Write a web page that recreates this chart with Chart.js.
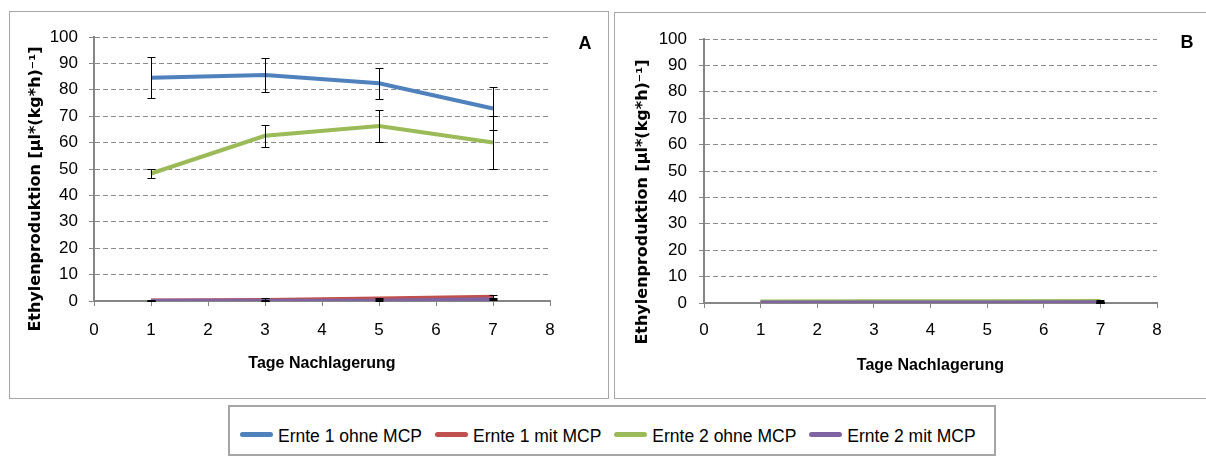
<!DOCTYPE html>
<html>
<head>
<meta charset="utf-8">
<script src="https://cdn.jsdelivr.net/npm/chart.js@4/dist/chart.umd.min.js"></script>
<style>
  body { margin: 0; width: 1206px; height: 457px; background: #fff; position: relative; overflow: hidden; font-family: 'Liberation Sans', Arial, sans-serif; }
  .panel { position: absolute; border: 1px solid #a6a6a6; background: #fff; }
  .panel canvas { position: absolute; left: 0; top: 0; }
  #boxA { left: 9px; top: 11px; width: 598px; height: 386px; }
  #boxB { left: 614px; top: 12px; width: 598px; height: 385px; }
  #legend { position: absolute; left: 228px; top: 405px; border: 2px solid #a6a6a6;
    display: flex; align-items: flex-start; padding: 19px 0 0 10px; box-sizing: content-box; width: 754px; height: 28px; }
  .item { display: flex; align-items: center; font-size: 17.5px; line-height: 20px; color: #000; margin-right: 13px; }
  .swatch { width: 33px; height: 5px; border-radius: 3px; margin-right: 5px; margin-top: -3px; }
</style>
</head>
<body>
<div class="panel" id="boxA"><canvas id="chartA" width="598" height="386"></canvas></div>
<div class="panel" id="boxB"><canvas id="chartB" width="598" height="385"></canvas></div>
<div id="legend"></div>
<script>
const days = [1, 3, 5, 7]
const seriesNames = ['Ernte 1 ohne MCP', 'Ernte 1 mit MCP', 'Ernte 2 ohne MCP', 'Ernte 2 mit MCP']
const seriesColors = ['#4f81bd', '#c0504d', '#9bbb59', '#8064a2']
const xTicks = [0, 1, 2, 3, 4, 5, 6, 7, 8]
const yTicks = [0, 10, 20, 30, 40, 50, 60, 70, 80, 90, 100]

// panel A values and error bars (+/-)
const aE1Ohne = [84.6, 85.6, 82.5, 72.9]
const aE1OhneErr = [7.8, 6.6, 5.9, 8.2]
const aE1Mit = [0.2, 0.4, 0.9, 1.6]
const aE1MitErr = [0.1, 0.6, 0.3, 0.8]
const aE2Ohne = [48.3, 62.6, 66.3, 60.0]
const aE2OhneErr = [1.8, 4.1, 6.2, 10.0]
const aE2Mit = [0.1, 0.1, 0.1, 0.7]
const aE2MitErr = [0.05, 0.1, 0.1, 0.4]

// panel B values and error bars (+/-)
const bE1Ohne = [0.4, 0.4, 0.4, 0.4]
const bE1OhneErr = [0, 0, 0, 0.3]
const bE1Mit = [0.0, 0.0, 0.0, 0.0]
const bE1MitErr = [0, 0, 0, 0.2]
const bE2Ohne = [0.6, 0.7, 0.7, 0.8]
const bE2OhneErr = [0, 0, 0, 0.3]
const bE2Mit = [0.2, 0.2, 0.2, 0.3]
const bE2MitErr = [0, 0, 0, 0.2]

const yTitle = 'Ethylenproduktion [µl*(kg*h)⁻¹]'
const xTitle = 'Tage Nachlagerung'

function makeDatasets(values, errors) {
  // order: later series drawn on top, like the original
  return values.map((vals, i) => ({
    label: seriesNames[i],
    data: vals.map((v, j) => ({ x: days[j], y: v })),
    errors: errors[i],
    borderColor: seriesColors[i],
    backgroundColor: seriesColors[i],
    borderWidth: 4,
    pointRadius: 0,
    tension: 0,
    order: 4 - i
  }))
}

const errorBars = {
  id: 'errorBars',
  afterDatasetsDraw(chart) {
    const ctx = chart.ctx
    const xs = chart.scales.x, ys = chart.scales.y
    ctx.save()
    ctx.strokeStyle = '#000'
    ctx.lineWidth = 1
    chart.data.datasets.forEach(ds => {
      ds.data.forEach((p, i) => {
        const e = ds.errors[i]
        if (!e) return
        const px = Math.round(xs.getPixelForValue(p.x)) + 0.5
        const top = Math.round(ys.getPixelForValue(p.y + e)) + 0.5
        const bot = Math.round(ys.getPixelForValue(Math.max(p.y - e, 0))) + 0.5
        ctx.beginPath()
        ctx.moveTo(px, top); ctx.lineTo(px, bot)
        ctx.moveTo(px - 4, top); ctx.lineTo(px + 4, top)
        ctx.moveTo(px - 4, bot); ctx.lineTo(px + 4, bot)
        ctx.stroke()
      })
    })
    ctx.restore()
  }
}

const panelText = {
  id: 'panelText',
  afterDraw(chart, args, opts) {
    const ctx = chart.ctx
    ctx.save()
    ctx.fillStyle = '#000'
    ctx.textAlign = 'center'
    ctx.textBaseline = 'middle'
    ctx.font = 'bold 18px "Liberation Sans", Arial, sans-serif'
    ctx.fillText(opts.letter, opts.letterX, opts.letterY)
    ctx.translate(opts.titleX, opts.titleY)
    ctx.rotate(-Math.PI / 2)
    ctx.font = 'bold 16px "DejaVu Sans", sans-serif'
    ctx.fillText(yTitle, 0, 0)
    ctx.restore()
  }
}

function makeChart(id, datasets, p) {
  return new Chart(document.getElementById(id).getContext('2d'), {
    type: 'line',
    data: { datasets },
    plugins: [errorBars, panelText],
    options: {
      responsive: false,
      animation: false,
      layout: { padding: { left: p.padLeft, top: p.padTop, right: p.padRight, bottom: p.padBottom } },
      plugins: {
        legend: { display: false },
        tooltip: { enabled: false },
        panelText: { letter: p.letter, letterX: p.letterX, letterY: p.letterY, titleX: p.titleX, titleY: p.titleY }
      },
      scales: {
        x: {
          type: 'linear',
          min: xTicks[0],
          max: xTicks[xTicks.length - 1],
          afterBuildTicks: s => { s.ticks = xTicks.map(v => ({ value: v })) },
          afterFit: s => { s.height = p.xHeight },
          border: { color: '#868686', width: 2 },
          grid: { drawOnChartArea: false, drawTicks: true, tickLength: 5, tickColor: '#868686', tickWidth: 1 },
          ticks: { color: '#000', padding: p.xTickPad, font: { family: 'Liberation Sans', size: 17 } },
          title: { display: true, text: xTitle, color: '#000', padding: { top: 0, bottom: p.xTitlePad },
            font: { family: 'Liberation Sans', size: 16, weight: 'bold' } }
        },
        y: {
          min: yTicks[0],
          max: yTicks[yTicks.length - 1],
          afterBuildTicks: s => { s.ticks = yTicks.map(v => ({ value: v })) },
          afterFit: s => { s.width = p.yWidth },
          border: { color: '#868686', width: 2, dash: [5, 3] },
          grid: { color: '#8c8c8c', lineWidth: 1, drawTicks: true, tickLength: 5, tickColor: '#868686', tickWidth: 1 },
          ticks: { color: '#000', padding: p.yTickPad, font: { family: 'Liberation Sans', size: 17 } }
        }
      }
    }
  })
}

makeChart('chartA',
  makeDatasets([aE1Ohne, aE1Mit, aE2Ohne, aE2Mit], [aE1OhneErr, aE1MitErr, aE2OhneErr, aE2MitErr]),
  { padLeft: 16, padTop: 25, padRight: 58, padBottom: 17, xHeight: 80, yWidth: 68,
    xTickPad: 14, yTickPad: 11, xTitlePad: 8,
    letter: 'A', letterX: 575, letterY: 32, titleX: 25.5, titleY: 177 })

makeChart('chartB',
  makeDatasets([bE1Ohne, bE1Mit, bE2Ohne, bE2Mit], [bE1OhneErr, bE1MitErr, bE2OhneErr, bE2MitErr]),
  { padLeft: 16, padTop: 26, padRight: 56, padBottom: 15, xHeight: 80, yWidth: 73,
    xTickPad: 12, yTickPad: 12, xTitlePad: 8,
    letter: 'B', letterX: 572, letterY: 30, titleX: 28, titleY: 189 })

// legend box below both panels
const legendEl = document.getElementById('legend')
seriesNames.forEach((name, i) => {
  const item = document.createElement('div')
  item.className = 'item'
  item.innerHTML = `<span class="swatch" style="background:${seriesColors[i]}"></span>${name}`
  legendEl.appendChild(item)
})
</script>
</body>
</html>
